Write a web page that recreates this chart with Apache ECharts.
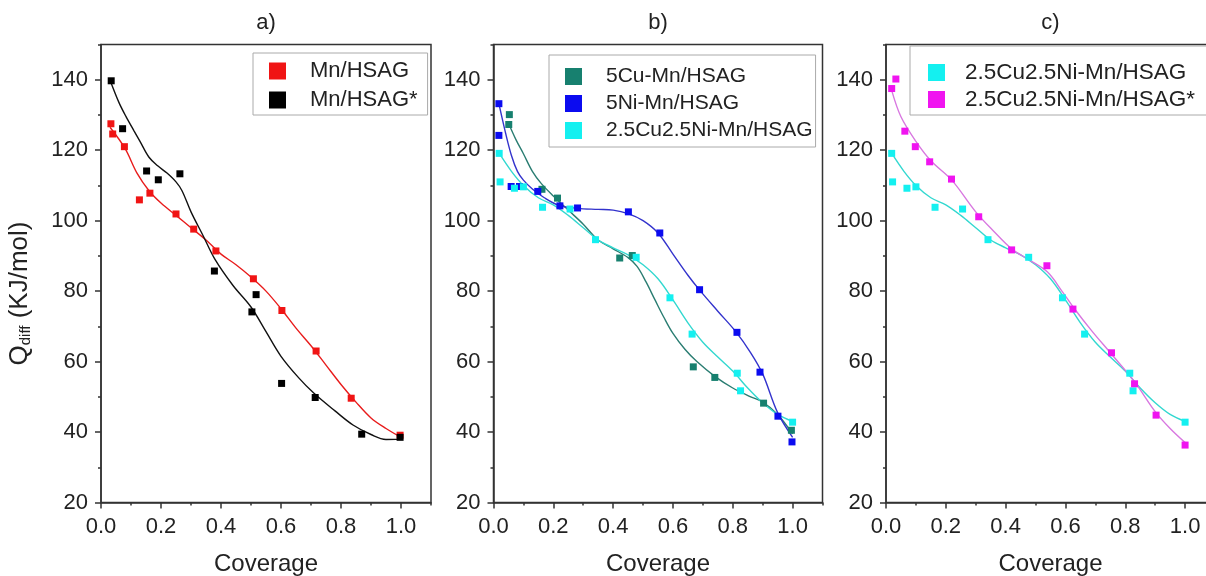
<!DOCTYPE html>
<html><head><meta charset="utf-8">
<script src="https://cdn.jsdelivr.net/npm/echarts@6/dist/echarts.min.js"></script>
<style>html,body{margin:0;padding:0;background:#fff}#c{width:1206px;height:576px}</style>
</head><body><div id="c"></div>
<script>
// ---- panel titles / labels ----
const panelTitles = ['a)', 'b)', 'c)'];
const xName = 'Coverage';
const legendA = ['Mn/HSAG', 'Mn/HSAG*'];
const legendB = ['5Cu-Mn/HSAG', '5Ni-Mn/HSAG', '2.5Cu2.5Ni-Mn/HSAG'];
const legendC = ['2.5Cu2.5Ni-Mn/HSAG', '2.5Cu2.5Ni-Mn/HSAG*'];

// ---- panel a ----
const redX = [0.033,0.039,0.078,0.128,0.163,0.25,0.309,0.383,0.508,0.603,0.717,0.834,0.997];
const redY = [127.5,124.6,121.0,105.9,107.8,101.9,97.6,91.4,83.5,74.5,63.0,49.6,39.1];
const redFitX = [0.03,0.08,0.12,0.16,0.2,0.25,0.3,0.35,0.4,0.45,0.5,0.55,0.6,0.65,0.7,0.75,0.8,0.85,0.9,0.95,1.0];
const redFitY = [126.5,120.5,113.5,108.5,105,101.5,98,94.5,90.5,87.5,84,80,75,69.5,64.5,59,53.5,48.5,44,41,38.5];

const blackX = [0.034,0.072,0.152,0.191,0.263,0.378,0.503,0.517,0.602,0.714,0.869,0.997];
const blackY = [139.7,126.1,114.1,111.6,113.3,85.7,74.1,79.0,53.8,49.8,39.4,38.5];
const blackFitX = [0.034,0.06,0.083,0.11,0.13,0.16,0.19,0.22,0.25,0.27,0.3,0.34,0.38,0.44,0.5,0.55,0.6,0.66,0.71,0.78,0.84,0.9,0.95,1.0];
const blackFitY = [139,133.5,129.6,125.5,122.5,118,115.5,113.5,111,108.5,102.5,95.8,89,81.6,75.5,68.5,61.5,55.3,51,46,42,39.3,37.9,38];

// ---- panel b ----
const tealX = [0.053,0.051,0.162,0.214,0.422,0.464,0.668,0.74,0.903,0.996];
const tealY = [130.1,127.3,108.9,106.4,89.4,90.1,58.5,55.5,48.2,40.5];
const tealFitX = [0.051,0.075,0.1,0.13,0.16,0.2,0.25,0.3,0.35,0.4,0.45,0.48,0.51,0.54,0.57,0.6,0.64,0.68,0.74,0.8,0.86,0.9,0.95,1.0];
const tealFitY = [127.5,123,119,114,110.5,107,103,99,94.5,92,89.5,87,82.6,77.5,72.5,68,63.5,60,55.8,52.5,50,48.5,45,39.5];

const blueX = [0.018,0.018,0.059,0.087,0.148,0.222,0.281,0.451,0.556,0.689,0.814,0.891,0.951,0.998];
const blueY = [133.2,124.2,109.7,109.7,108.3,104.2,103.6,102.5,96.5,80.4,68.3,57.0,44.5,37.2];
const blueFitX = [0.018,0.04,0.06,0.08,0.1,0.13,0.17,0.22,0.28,0.35,0.4,0.45,0.5,0.55,0.6,0.65,0.69,0.75,0.81,0.86,0.9,0.95,1.0];
const blueFitY = [133.2,125,118.5,114,111.5,109,106.5,104.3,103.5,103.2,103,102,100,96.5,90.5,84.5,80.2,74.3,68.5,62.5,56.5,45.5,38.5];

// ---- shared cyan series (panels b and c) ----
const cyanX = [0.019,0.022,0.07,0.1,0.164,0.256,0.341,0.477,0.59,0.664,0.815,0.826,1.0];
const cyanY = [119.1,111.0,109.2,109.6,103.8,103.3,94.6,89.6,78.1,67.8,56.7,51.7,42.8];
const cyanFitX = [0.02,0.06,0.1,0.15,0.2,0.25,0.3,0.35,0.4,0.45,0.5,0.55,0.6,0.65,0.7,0.75,0.8,0.85,0.9,0.95,1.0];
const cyanFitY = [119,114,110,106.5,104.5,101.5,98,94.5,92.3,90.3,87.5,83.5,77.5,71,65.5,61.3,57.3,52.5,48.3,45,43];

// ---- panel c ----
const magX = [0.019,0.033,0.063,0.098,0.146,0.219,0.31,0.42,0.538,0.625,0.754,0.831,0.903,1.0];
const magY = [137.5,140.2,125.4,121.0,116.7,111.8,101.1,91.7,87.2,74.9,62.5,53.7,44.8,36.3];
const magFitX = [0.02,0.05,0.1,0.15,0.22,0.3,0.36,0.42,0.48,0.54,0.59,0.63,0.69,0.75,0.83,0.9,0.95,1.0];
const magFitY = [136.7,129.5,122.5,117,111.5,102.5,97,92,88.8,85.4,79.8,75,68.5,62.5,54.4,45.8,41,37];

// ---------------------------------------------------------------
const FONT = 'Liberation Sans, Arial, sans-serif';
const TXT = '#222';
const AX = '#333';
const gridRects = [
  {left: 101, top: 44.5, width: 330, height: 458},
  {left: 493.5, top: 44.5, width: 329, height: 458},
  {left: 886, top: 44.5, width: 329, height: 458}
];
const zip = (xs, ys) => xs.map((x, i) => [x, ys[i]]);

const grids = [];
const xAxes = [];
const yAxes = [];
gridRects.forEach((r) => {
  grids.push(Object.assign({show: true, borderColor: AX, borderWidth: 1.5, backgroundColor: 'transparent',
    containLabel: false, outerBoundsMode: 'none'}, r));
});
// minor-tick grids (same rects)
gridRects.forEach((r) => grids.push(Object.assign({show: false, containLabel: false, outerBoundsMode: 'none'}, r)));

gridRects.forEach((r, i) => {
  xAxes.push({
    type: 'value', gridIndex: i, min: 0, max: 1.1, interval: 0.2,
    axisLine: {show: true, onZero: false, lineStyle: {color: AX, width: 1.5}},
    axisTick: {show: true, length: 6, lineStyle: {color: AX, width: 1.5}},
    axisLabel: {margin: 13, fontSize: 22, color: TXT, fontFamily: FONT, showMaxLabel: false,
      formatter: v => v.toFixed(1)},
    splitLine: {show: false},
    name: xName, nameLocation: 'middle', nameGap: 50,
    nameTextStyle: {fontSize: 24, color: TXT, fontFamily: FONT}
  });
  const y = {
    type: 'value', gridIndex: i, min: 20, max: 150, interval: 20,
    axisLine: {show: true, onZero: false, lineStyle: {color: AX, width: 1.5}},
    axisTick: {show: true, length: 6, lineStyle: {color: AX, width: 1.5}},
    axisLabel: {margin: 13, fontSize: 22, color: TXT, fontFamily: FONT, showMaxLabel: false},
    splitLine: {show: false}
  };
  if (i === 0) {
    y.name = '{q|Q}{s|diff}{t| (KJ/mol)}';
    y.nameLocation = 'middle';
    y.nameGap = 68;
    y.nameTextStyle = {
      color: TXT, fontFamily: FONT, padding: [0, 40, 0, 0],
      rich: {
        q: {fontSize: 26, color: TXT, fontFamily: FONT},
        s: {fontSize: 15, color: TXT, fontFamily: FONT, verticalAlign: 'bottom', padding: [12, 0, 0, 0]},
        t: {fontSize: 26, color: TXT, fontFamily: FONT}
      }
    };
  }
  yAxes.push(y);
});
gridRects.forEach((r, i) => {
  xAxes.push({
    type: 'value', gridIndex: i + 3, min: 0, max: 1.1, interval: 0.1,
    axisLine: {show: false}, axisTick: {show: true, length: 3, lineStyle: {color: AX, width: 1.5}},
    axisLabel: {show: false}, splitLine: {show: false}
  });
  yAxes.push({
    type: 'value', gridIndex: i + 3, min: 20, max: 150, interval: 10,
    axisLine: {show: false}, axisTick: {show: true, length: 3, lineStyle: {color: AX, width: 1.5}},
    axisLabel: {show: false}, splitLine: {show: false}
  });
});

const series = [];
function addPair(name, ptColor, lnColor, px, py, fx, fy, gi) {
  series.push({
    name: name + ' fit', type: 'line', xAxisIndex: gi, yAxisIndex: gi,
    data: zip(fx, fy), smooth: 0.35, showSymbol: false, symbol: 'none',
    lineStyle: {color: lnColor, width: 1.4}, itemStyle: {color: lnColor}, z: 2, silent: true
  });
  series.push({
    name: name, type: 'scatter', xAxisIndex: gi, yAxisIndex: gi,
    data: zip(px, py), symbol: 'rect', symbolSize: 7,
    itemStyle: {color: ptColor, opacity: 1}, z: 3
  });
}
addPair('Mn/HSAG', '#f01414', '#e81c1c', redX, redY, redFitX, redFitY, 0);
addPair('Mn/HSAG*', '#000000', '#111111', blackX, blackY, blackFitX, blackFitY, 0);
addPair('5Cu-Mn/HSAG', '#17806f', '#2a7d72', tealX, tealY, tealFitX, tealFitY, 1);
addPair('5Ni-Mn/HSAG', '#0b0bf0', '#3333cc', blueX, blueY, blueFitX, blueFitY, 1);
addPair('2.5Cu2.5Ni-Mn/HSAG', '#14f0f0', '#33d8d0', cyanX, cyanY, cyanFitX, cyanFitY, 1);
addPair('2.5Cu2.5Ni-Mn/HSAG', '#14f0f0', '#33d8d0', cyanX, cyanY, cyanFitX, cyanFitY, 2);
addPair('2.5Cu2.5Ni-Mn/HSAG*', '#f014f0', '#d878e0', magX, magY, magFitX, magFitY, 2);

const legendBase = {
  orient: 'vertical', icon: 'rect', itemWidth: 17, itemHeight: 17,
  borderColor: '#aaa', borderWidth: 1, selectedMode: false,
  textStyle: {fontSize: 22, color: TXT, fontFamily: FONT}
};
const legends = [
  Object.assign({}, legendBase, {data: legendA, left: 253, top: 53, itemGap: 7, padding: [7, 10, 4, 16],
    textStyle: Object.assign({}, legendBase.textStyle, {padding: [0, 0, 0, 19]})}),
  Object.assign({}, legendBase, {data: legendB, left: 549, top: 55, itemGap: 6, padding: [11, 3, 6, 16],
    textStyle: Object.assign({}, legendBase.textStyle, {fontSize: 21, padding: [0, 0, 0, 19]})}),
  Object.assign({}, legendBase, {data: legendC, left: 910, top: 46, itemGap: 4, padding: [15, 16, 4, 18],
    textStyle: Object.assign({}, legendBase.textStyle, {fontSize: 22.5, padding: [0, 0, 0, 15]})})
];

const titles = panelTitles.map((t, i) => ({
  text: t, left: gridRects[i].left + gridRects[i].width / 2, top: 12, textAlign: 'center', padding: 0,
  textStyle: {fontSize: 22, fontWeight: 'normal', color: TXT, fontFamily: FONT}
}));

const chart = echarts.init(document.getElementById('c'), null, {renderer: 'canvas'});
chart.setOption({
  animation: false,
  backgroundColor: '#fff',
  title: titles,
  legend: legends,
  grid: grids,
  xAxis: xAxes,
  yAxis: yAxes,
  series: series
});
</script></body></html>
